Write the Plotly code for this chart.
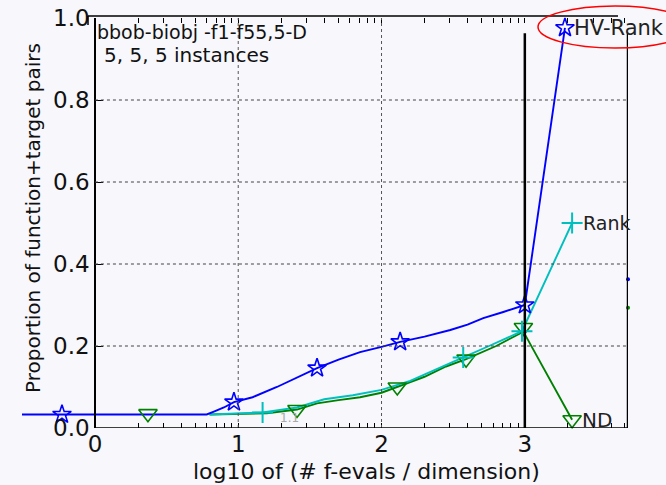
import numpy as np
import plotly.graph_objects as go

# ---------------- data ----------------
hv_x = [-0.51, 0.78, 0.83, 0.90, 0.97, 1.10, 1.27, 1.40, 1.55, 1.70, 1.85, 2.00, 2.13, 2.30, 2.48, 2.60, 2.71, 2.85, 2.99, 3.00, 3.28]
hv_y = [0.033, 0.033, 0.040, 0.050, 0.063, 0.075, 0.100, 0.122, 0.146, 0.167, 0.185, 0.198, 0.210, 0.223, 0.239, 0.252, 0.268, 0.283, 0.300, 0.300, 0.976]
hv_mx = [-0.23, 0.97, 1.55, 2.13, 3.00, 3.28]
hv_my = [0.033, 0.063, 0.146, 0.210, 0.300, 0.976]

rank_x = [0.80, 1.17, 1.41, 1.60, 1.80, 2.00, 2.20, 2.40, 2.57, 2.75, 2.98, 3.33]
rank_y = [0.033, 0.038, 0.050, 0.070, 0.080, 0.093, 0.115, 0.145, 0.172, 0.200, 0.236, 0.500]
rank_mx = [1.17, 2.57, 2.98, 3.33]
rank_my = [0.038, 0.172, 0.236, 0.500]

nd_x = [0.80, 1.00, 1.20, 1.41, 1.55, 1.70, 1.85, 2.00, 2.11, 2.30, 2.45, 2.59, 2.80, 2.99, 3.33]
nd_y = [0.033, 0.034, 0.036, 0.045, 0.060, 0.068, 0.075, 0.086, 0.100, 0.125, 0.150, 0.168, 0.200, 0.235, 0.020]
nd_mx = [0.37, 1.41, 2.11, 2.59, 2.99, 3.33]
nd_my = [0.035, 0.045, 0.100, 0.168, 0.245, 0.020]

edge_x = [3.72, 3.72]
edge_y = [0.363, 0.293]
edge_colors = ["#0000ff", "#008000"]

labels = ["HV-Rank", "Rank", "ND"]
label_x = [3.33, 3.39, 3.385]
label_y = [0.976, 0.50, 0.02]
label_size = [21, 19, 20]

x_ticks = [0, 1, 2, 3]
y_ticks = [0.0, 0.2, 0.4, 0.6, 0.8, 1.0]
minor_x = [d + np.log10(k) for d in range(4) for k in range(2, 10) if d + np.log10(k) < 3.7]

BLUE, CYAN, GREEN = "#0000ff", "#00bfbf", "#008000"
FONT = "DejaVu Sans"
BG = "#f7f7fc"
XR = [-0.509, 3.72]

all_tickvals = x_ticks + minor_x
all_ticktext = [str(v) for v in x_ticks] + [""] * len(minor_x)

fig = go.Figure()

fig.add_trace(go.Scatter(x=nd_x, y=nd_y, mode="lines", line=dict(color=GREEN, width=1.9), hoverinfo="skip"))
fig.add_trace(go.Scatter(x=rank_x, y=rank_y, mode="lines", line=dict(color=CYAN, width=1.9), hoverinfo="skip"))
fig.add_trace(go.Scatter(x=hv_x, y=hv_y, mode="lines", line=dict(color=BLUE, width=1.9), hoverinfo="skip"))

fig.add_trace(go.Scatter(x=nd_mx, y=nd_my, mode="markers", cliponaxis=False,
                         marker=dict(symbol="triangle-down-open", size=16, color=GREEN, line=dict(width=1.6))))
fig.add_trace(go.Scatter(x=rank_mx, y=rank_my, mode="markers", cliponaxis=False,
                         marker=dict(symbol="cross-thin-open", size=15, color=CYAN, line=dict(width=2, color=CYAN))))
fig.add_trace(go.Scatter(x=hv_mx, y=hv_my, mode="markers", cliponaxis=False,
                         marker=dict(symbol="star-open", size=14, color=BLUE, line=dict(width=1.6))))
fig.add_trace(go.Scatter(x=edge_x, y=edge_y, mode="markers", cliponaxis=False,
                         marker=dict(symbol="circle", size=4, color=edge_colors)))
# holder so the top tick axis is drawn
fig.add_trace(go.Scatter(x=[1.5], y=[0.5], xaxis="x2", yaxis="y", mode="markers",
                         marker=dict(opacity=0), hoverinfo="skip"))

shapes = []
for gy in [0.2, 0.4, 0.6, 0.8]:
    shapes.append(dict(type="line", xref="x", yref="y", x0=0, x1=3.72, y0=gy, y1=gy,
                       line=dict(color="#444", width=1, dash="dot")))
for gx in [1, 2]:
    shapes.append(dict(type="line", xref="x", yref="y", x0=gx, x1=gx, y0=0, y1=1.0,
                       line=dict(color="#555", width=1, dash="dot")))
shapes.append(dict(type="line", xref="x", yref="y", x0=0, x1=3.72, y0=0, y1=0, line=dict(color="black", width=1.5)))
shapes.append(dict(type="line", xref="paper", yref="paper", x0=88/666, x1=618/666, y0=(485-16)/485, y1=(485-16)/485,
                   line=dict(color="black", width=1.5)))
shapes.append(dict(type="line", xref="paper", yref="paper", x0=88/666, x1=88/666, y0=(485-16)/485, y1=(485-25)/485,
                   line=dict(color="black", width=1.5)))
shapes.append(dict(type="line", xref="x", yref="y", x0=3.0, x1=3.0, y0=0, y1=0.963, line=dict(color="black", width=2.5)))
shapes.append(dict(type="line", xref="x", yref="y", x0=3.72, x1=3.72, y0=0, y1=0.963, line=dict(color="black", width=2.5)))
shapes.append(dict(type="circle", xref="paper", yref="paper", x0=538/666, x1=692/666, y0=(485-48)/485, y1=(485-6)/485,
                   line=dict(color="red", width=1.5)))

annotations = []
for t, lx, ly, ls in zip(labels, label_x, label_y, label_size):
    annotations.append(dict(x=lx, y=ly, xref="x", yref="y", text=t, showarrow=False, xanchor="left", yanchor="middle",
                            font=dict(family=FONT, size=ls, color="#222")))
annotations.append(dict(x=1.36, y=0.025, xref="x", yref="y", text="1.1", showarrow=False,
                        font=dict(family=FONT, size=12, color="#aaa")))
annotations.append(dict(x=95/666, y=(485-32)/485, xref="paper", yref="paper", text="bbob-biobj -f1-f55,5-D",
                        showarrow=False, xanchor="left", yanchor="middle", font=dict(family=FONT, size=19, color="#111")))
annotations.append(dict(x=102/666, y=(485-55)/485, xref="paper", yref="paper", text="5, 5, 5 instances",
                        showarrow=False, xanchor="left", yanchor="middle", font=dict(family=FONT, size=20, color="#111")))
annotations.append(dict(x=366/666, y=(485-471)/485, xref="paper", yref="paper", text="log10 of (# f-evals / dimension)",
                        showarrow=False, xanchor="center", yanchor="middle", font=dict(family=FONT, size=22, color="#111")))
annotations.append(dict(x=33/666, y=(485-218)/485, xref="paper", yref="paper", text="Proportion of function+target pairs",
                        showarrow=False, textangle=-90, xanchor="center", yanchor="middle",
                        font=dict(family=FONT, size=20, color="#111")))

fig.update_layout(
    width=666, height=485,
    margin=dict(l=0, r=0, t=0, b=0, autoexpand=False),
    paper_bgcolor=BG, plot_bgcolor=BG,
    showlegend=False,
    font=dict(family=FONT, color="#111"),
    shapes=shapes, annotations=annotations,
    xaxis=dict(domain=[22/666, 628/666], range=XR, automargin=False,
               showgrid=False, zeroline=False, showline=False,
               tickmode="array", tickvals=all_tickvals, ticktext=all_ticktext,
               ticks="inside", ticklen=5, tickwidth=1, tickcolor="black",
               tickfont=dict(family=FONT, size=23, color="#111")),
    xaxis2=dict(overlaying="x", side="top", anchor="y", range=XR, automargin=False,
                showgrid=False, zeroline=False, showline=False,
                showticklabels=False, tickmode="array", tickvals=all_tickvals,
                ticks="inside", ticklen=5, tickwidth=1, tickcolor="black"),
    yaxis=dict(domain=[57/485, 467/485], range=[0, 1], anchor="free", position=95/666, automargin=False,
               showgrid=False, zeroline=False, showline=True, linecolor="black", linewidth=1.5,
               tickmode="array", tickvals=y_ticks, ticktext=[f"{v:.1f}" for v in y_ticks],
               ticks="inside", ticklen=7, tickcolor="black",
               tickfont=dict(family=FONT, size=23, color="#111")),
)

fig.write_html("out.html", config={"displayModeBar": False},
               post_script="document.body.style.margin='0';document.body.style.background='%s';" % BG)
